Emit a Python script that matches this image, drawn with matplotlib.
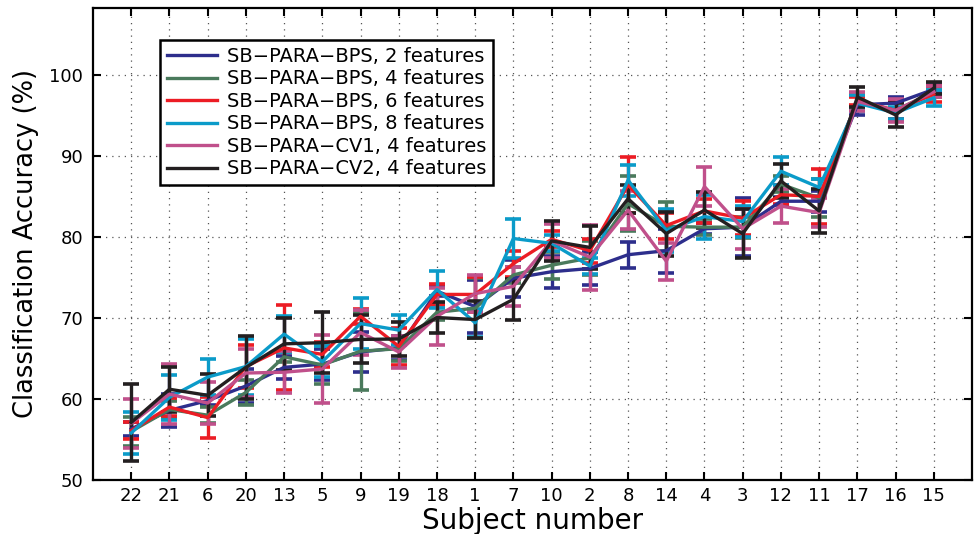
import numpy as np
import matplotlib
matplotlib.use("Agg")
from matplotlib import pyplot as plt

plt.rcParams['font.family'] = ['DejaVu Sans']

subjects = ["22", "21", "6", "20", "13", "5", "9", "19", "18", "1", "7",
            "10", "2", "8", "14", "4", "3", "12", "11", "17", "16", "15"]

# mean accuracy (%) and error (+/-) per series, in subject order above
bps2 = [56.3, 58.6, 59.8, 61.6, 63.9, 64.3, 65.8, 66.3, 73.3, 71.4, 74.9,
        75.7, 76.1, 77.8, 78.3, 81.0, 81.2, 84.4, 84.4, 96.3, 96.5, 98.2]
bps2_err = [0.9, 2.0, 0.6, 2.1, 1.4, 1.9, 2.5, 1.5, 0.6, 3.3, 2.3,
            2.0, 2.0, 1.6, 2.7, 0.7, 3.6, 0.5, 1.3, 1.2, 0.7, 0.5]

bps4 = [56.0, 58.7, 58.0, 60.8, 65.2, 64.2, 65.9, 66.2, 70.7, 71.2, 75.3,
        76.5, 77.4, 84.1, 81.3, 81.2, 81.2, 86.5, 84.8, 96.8, 95.6, 97.9]
bps4_err = [1.8, 1.0, 1.0, 1.5, 0.6, 2.3, 4.85, 1.5, 1.0, 3.7, 1.0,
            1.65, 2.1, 3.4, 3.0, 1.0, 1.3, 1.0, 2.3, 0.8, 1.0, 0.6]

bps6 = [56.1, 59.0, 57.7, 64.0, 66.3, 65.5, 70.2, 66.5, 72.9, 72.9, 76.7,
        79.7, 78.3, 86.4, 81.4, 83.2, 82.3, 85.2, 85.0, 96.8, 95.6, 97.6]
bps6_err = [1.0, 1.1, 2.5, 2.7, 5.25, 1.5, 0.9, 2.25, 1.3, 2.2, 1.6,
            1.0, 1.5, 3.4, 1.6, 1.5, 2.1, 1.2, 3.35, 0.5, 1.0, 1.0]

bps8 = [55.8, 60.2, 62.7, 64.0, 68.0, 64.6, 69.3, 68.5, 73.5, 69.4, 79.8,
        79.2, 76.4, 87.0, 80.8, 82.5, 81.9, 88.1, 86.1, 96.5, 95.3, 97.15]
bps8_err = [2.6, 2.75, 2.2, 3.45, 2.2, 1.9, 3.1, 1.8, 2.3, 1.7, 2.4,
            1.0, 1.0, 1.9, 2.7, 2.7, 1.95, 1.7, 1.1, 1.0, 0.7, 0.95]

cv1 = [57.0, 60.6, 59.5, 63.2, 63.3, 63.7, 68.2, 65.8, 70.2, 73.0, 73.9,
       79.5, 77.5, 83.3, 77.0, 86.2, 81.0, 83.8, 83.0, 96.7, 95.6, 97.9]
cv1_err = [3.0, 3.75, 2.65, 3.0, 2.6, 4.2, 2.8, 2.0, 3.5, 2.3, 2.4,
           2.1, 4.0, 2.3, 2.3, 2.4, 2.5, 2.1, 1.8, 1.2, 1.4, 0.7]

cv2 = [57.1, 61.2, 60.45, 63.9, 66.8, 66.95, 67.35, 67.4, 70.05, 69.8, 72.3,
       79.5, 78.7, 84.7, 80.4, 83.3, 80.4, 86.9, 83.2, 97.25, 95.05, 98.35]
cv2_err = [4.8, 2.8, 2.6, 3.9, 3.2, 3.75, 2.95, 2.1, 1.95, 2.3, 2.5,
           2.5, 2.7, 1.7, 2.7, 2.25, 3.0, 2.1, 2.7, 1.25, 1.45, 0.75]

labels = ["SB\u2212PARA\u2212BPS, 2 features", "SB\u2212PARA\u2212BPS, 4 features",
          "SB\u2212PARA\u2212BPS, 6 features", "SB\u2212PARA\u2212BPS, 8 features",
          "SB\u2212PARA\u2212CV1, 4 features", "SB\u2212PARA\u2212CV2, 4 features"]
colors = ["#2d2e8c", "#4a7a5c", "#ec1c24", "#0b9bc9", "#c0508b", "#231f20"]

series = [(bps2, bps2_err), (bps4, bps4_err), (bps6, bps6_err),
          (bps8, bps8_err), (cv1, cv1_err), (cv2, cv2_err)]

fig = plt.figure(figsize=(9.77, 5.34), dpi=100)
ax = fig.add_axes([0.0952, 0.1011, 0.8997, 0.8848])

x = np.arange(1, len(subjects) + 1)
for (m, e), c, lab in zip(series, colors, labels):
    ax.errorbar(x, m, yerr=e, color=c, lw=2.4, elinewidth=2.4,
                capsize=6, capthick=2.6, label=lab)

ax.set_xlim(0, 23)
ax.set_ylim(50, 108.3)
ax.set_xticks(x)
ax.set_xticklabels(subjects)
ax.set_yticks([50, 60, 70, 80, 90, 100])
ax.tick_params(direction="in", top=True, right=True, labelsize=13,
               length=6, width=1.5, pad=7)
ax.tick_params(axis="x", pad=5)
ax.grid(True, linestyle=(0, (1, 4)), color="#555555", lw=0.9)
for s in ax.spines.values():
    s.set_linewidth(1.6)

ax.set_xlabel("Subject number", fontsize=20)
ax.xaxis.set_label_coords(0.5, -0.058)
ax.set_ylabel("Classification Accuracy (%)", fontsize=18.5)
ax.yaxis.set_label_coords(-0.062, 0.5)

handles, labs = ax.get_legend_handles_labels()
handles = [h[0] for h in handles]
leg = ax.legend(handles, labs, loc="upper left", bbox_to_anchor=(0.076, 0.931),
                fontsize=14, handlelength=2.6, fancybox=False, framealpha=1,
                edgecolor="black", borderpad=0.35, labelspacing=0.18,
                handletextpad=0.5, borderaxespad=0)
leg.get_frame().set_linewidth(1.8)

fig.savefig("out.png", dpi=100)
